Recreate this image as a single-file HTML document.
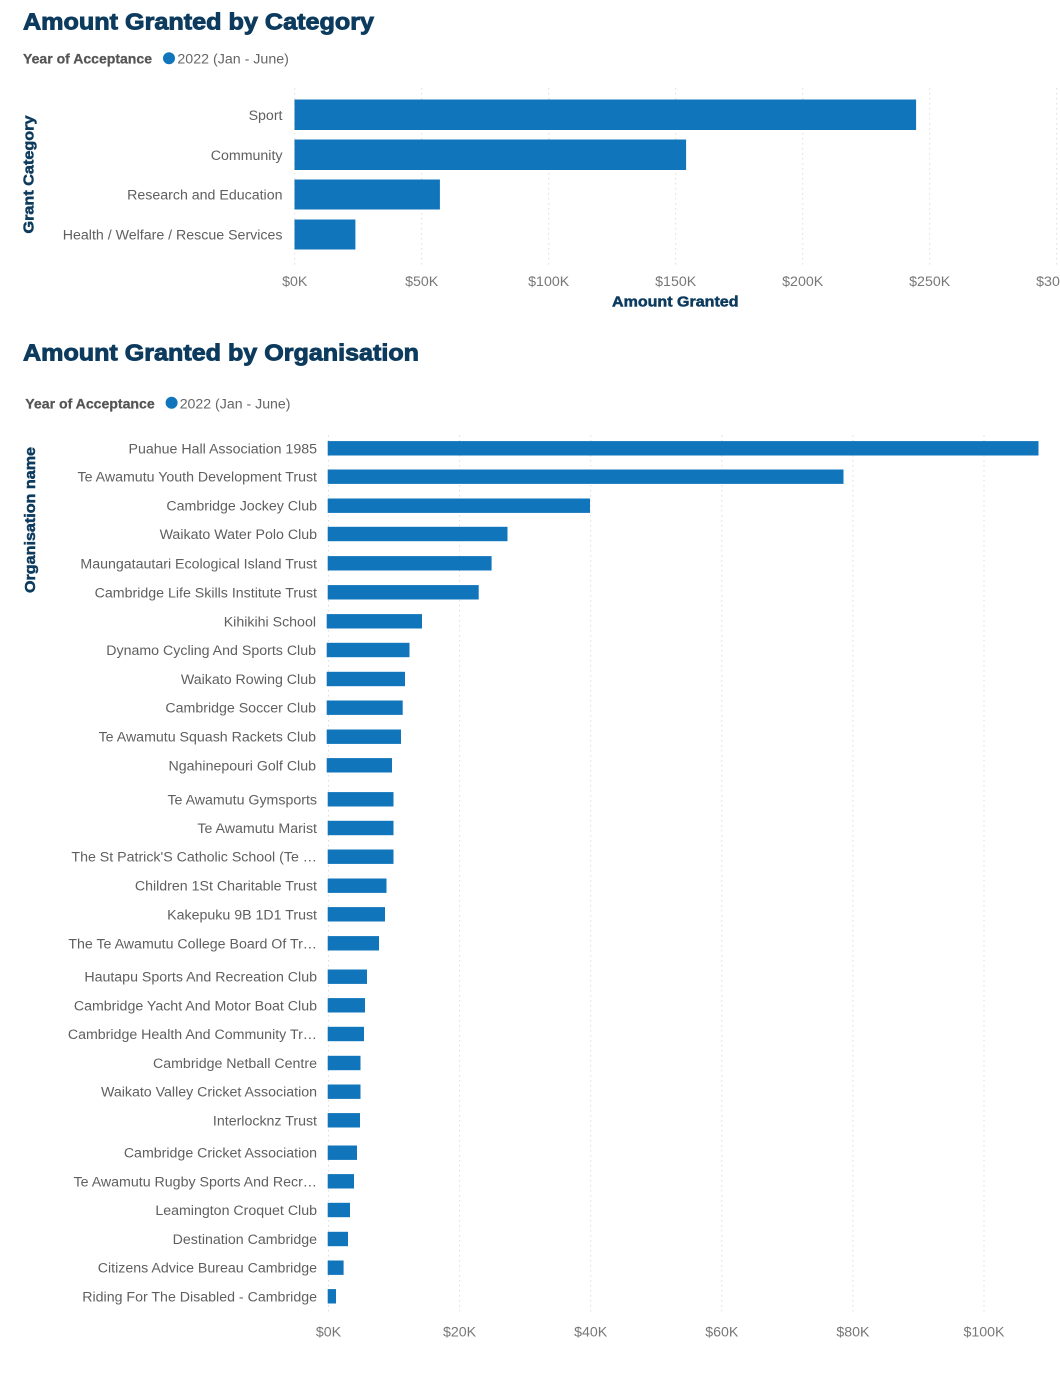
<!DOCTYPE html>
<html>
<head>
<meta charset="utf-8">
<style>
html,body{margin:0;padding:0;background:#fff;}
svg{display:block;}
text{font-family:"Liberation Sans",Arial,sans-serif;}
.lbl{font-size:14.2px;fill:#5f5f5f;text-anchor:end;}
.tick{font-size:14.2px;fill:#777;text-anchor:middle;}
.ttl{font-size:23px;font-weight:bold;fill:#0d3b5e;stroke:#0d3b5e;stroke-width:0.9px;}
.axt{font-size:14.5px;font-weight:bold;fill:#0d3b5e;stroke:#0d3b5e;stroke-width:0.5px;}
.leg{font-size:14.2px;font-weight:bold;fill:#555;stroke:#555;stroke-width:0.25px;}
.legv{font-size:14.2px;fill:#666;}
.grid{stroke:#dcdcdc;stroke-width:1;stroke-dasharray:1.5,3.5;}
.bar{fill:#1075bb;}
</style>
</head>
<body>
<svg width="1060" height="1399" viewBox="0 0 1060 1399" xmlns="http://www.w3.org/2000/svg">
<rect width="1060" height="1399" fill="#fff"/>

<!-- ===== Chart 1 ===== -->
<text class="ttl" x="23" y="29.3" textLength="351" lengthAdjust="spacingAndGlyphs">Amount Granted by Category</text>
<text class="leg" x="23" y="63.3" textLength="129" lengthAdjust="spacingAndGlyphs">Year of Acceptance</text>
<circle cx="169" cy="58.3" r="6" fill="#1075bb"/>
<text class="legv" x="177.4" y="63.3" textLength="111.5" lengthAdjust="spacingAndGlyphs">2022 (Jan - June)</text>

<text class="axt" transform="translate(33.5,233.5) rotate(-90)" x="0" y="0" textLength="118" lengthAdjust="spacingAndGlyphs">Grant Category</text>

<g>
<line class="grid" x1="294.7" y1="88" x2="294.7" y2="268"/>
<line class="grid" x1="421.7" y1="88" x2="421.7" y2="268"/>
<line class="grid" x1="548.7" y1="88" x2="548.7" y2="268"/>
<line class="grid" x1="675.7" y1="88" x2="675.7" y2="268"/>
<line class="grid" x1="802.7" y1="88" x2="802.7" y2="268"/>
<line class="grid" x1="929.7" y1="88" x2="929.7" y2="268"/>
<line class="grid" x1="1056.7" y1="88" x2="1056.7" y2="268"/>
</g>

<rect class="bar" x="294.5" y="99.5" width="621.6" height="30.5"/>
<rect class="bar" x="294.5" y="139.5" width="391.6" height="30.5"/>
<rect class="bar" x="294.5" y="179.5" width="145.4" height="30"/>
<rect class="bar" x="294.5" y="219.5" width="60.9" height="30"/>

<text class="lbl" x="282.5" y="119.8">Sport</text>
<text class="lbl" x="282.5" y="159.8">Community</text>
<text class="lbl" x="282.5" y="199.6">Research and Education</text>
<text class="lbl" x="282.5" y="239.6">Health / Welfare / Rescue Services</text>

<text class="tick" x="294.7" y="286">$0K</text>
<text class="tick" x="421.7" y="286">$50K</text>
<text class="tick" x="548.7" y="286">$100K</text>
<text class="tick" x="675.7" y="286">$150K</text>
<text class="tick" x="802.7" y="286">$200K</text>
<text class="tick" x="929.7" y="286">$250K</text>
<text class="tick" x="1056.7" y="286">$300K</text>

<text class="axt" x="612" y="306.5" textLength="126.5" lengthAdjust="spacingAndGlyphs">Amount Granted</text>

<!-- ===== Chart 2 ===== -->
<text class="ttl" x="23" y="360.7" textLength="396" lengthAdjust="spacingAndGlyphs">Amount Granted by Organisation</text>
<text class="leg" x="25.3" y="408.3" textLength="129.4" lengthAdjust="spacingAndGlyphs">Year of Acceptance</text>
<circle cx="171.6" cy="402.7" r="6" fill="#1075bb"/>
<text class="legv" x="179.7" y="408.3" textLength="110.8" lengthAdjust="spacingAndGlyphs">2022 (Jan - June)</text>

<text class="axt" transform="translate(35,593) rotate(-90)" x="0" y="0" textLength="146" lengthAdjust="spacingAndGlyphs">Organisation name</text>

<g>
<line class="grid" x1="328.5" y1="435" x2="328.5" y2="1313"/>
<line class="grid" x1="459.6" y1="435" x2="459.6" y2="1313"/>
<line class="grid" x1="590.7" y1="435" x2="590.7" y2="1313"/>
<line class="grid" x1="721.8" y1="435" x2="721.8" y2="1313"/>
<line class="grid" x1="852.9" y1="435" x2="852.9" y2="1313"/>
<line class="grid" x1="984" y1="435" x2="984" y2="1313"/>
</g>

<g>
<rect class="bar" x="327.7" y="441.1" width="710.8" height="14.4"/>
<rect class="bar" x="327.7" y="469.5" width="515.8" height="14.4"/>
<rect class="bar" x="327.7" y="498.5" width="262.3" height="14.4"/>
<rect class="bar" x="327.7" y="526.8" width="179.8" height="14.4"/>
<rect class="bar" x="327.7" y="556.1" width="163.9" height="14.4"/>
<rect class="bar" x="327.7" y="585.1" width="151.0" height="14.4"/>
<rect class="bar" x="326.7" y="614.1" width="95.3" height="14.4"/>
<rect class="bar" x="326.7" y="642.8" width="82.8" height="14.4"/>
<rect class="bar" x="326.7" y="671.8" width="78.3" height="14.4"/>
<rect class="bar" x="326.7" y="700.5" width="76.0" height="14.4"/>
<rect class="bar" x="326.7" y="729.5" width="74.3" height="14.4"/>
<rect class="bar" x="326.7" y="758.1" width="65.3" height="14.4"/>
<rect class="bar" x="327.7" y="792.1" width="65.8" height="14.4"/>
<rect class="bar" x="327.7" y="820.8" width="65.8" height="14.4"/>
<rect class="bar" x="327.7" y="849.5" width="65.8" height="14.4"/>
<rect class="bar" x="327.7" y="878.5" width="58.8" height="14.4"/>
<rect class="bar" x="327.7" y="907.1" width="57.3" height="14.4"/>
<rect class="bar" x="327.7" y="936.1" width="51.3" height="14.4"/>
<rect class="bar" x="327.7" y="969.5" width="39.3" height="14.4"/>
<rect class="bar" x="327.7" y="998.1" width="37.3" height="14.4"/>
<rect class="bar" x="327.7" y="1026.8" width="36.3" height="14.4"/>
<rect class="bar" x="327.7" y="1055.8" width="32.8" height="14.4"/>
<rect class="bar" x="327.7" y="1084.5" width="32.8" height="14.4"/>
<rect class="bar" x="327.7" y="1113.1" width="32.3" height="14.4"/>
<rect class="bar" x="327.7" y="1145.5" width="29.3" height="14.4"/>
<rect class="bar" x="327.7" y="1174.1" width="26.3" height="14.4"/>
<rect class="bar" x="327.7" y="1202.8" width="22.3" height="14.4"/>
<rect class="bar" x="327.7" y="1231.8" width="20.3" height="14.4"/>
<rect class="bar" x="327.7" y="1260.5" width="15.9" height="14.4"/>
<rect class="bar" x="327.7" y="1289.1" width="8.3" height="14.4"/>
</g>

<g>
<text class="lbl" x="317" y="453.3">Puahue Hall Association 1985</text>
<text class="lbl" x="317" y="481.7">Te Awamutu Youth Development Trust</text>
<text class="lbl" x="317" y="510.7">Cambridge Jockey Club</text>
<text class="lbl" x="317" y="539">Waikato Water Polo Club</text>
<text class="lbl" x="317" y="568.3">Maungatautari Ecological Island Trust</text>
<text class="lbl" x="317" y="597.3">Cambridge Life Skills Institute Trust</text>
<text class="lbl" x="316" y="626.3">Kihikihi School</text>
<text class="lbl" x="316" y="655">Dynamo Cycling And Sports Club</text>
<text class="lbl" x="316" y="684">Waikato Rowing Club</text>
<text class="lbl" x="316" y="712.7">Cambridge Soccer Club</text>
<text class="lbl" x="316" y="741.7">Te Awamutu Squash Rackets Club</text>
<text class="lbl" x="316" y="770.3">Ngahinepouri Golf Club</text>
<text class="lbl" x="317" y="804.3">Te Awamutu Gymsports</text>
<text class="lbl" x="317" y="833">Te Awamutu Marist</text>
<text class="lbl" x="317" y="861.7">The St Patrick'S Catholic School (Te …</text>
<text class="lbl" x="317" y="890.7">Children 1St Charitable Trust</text>
<text class="lbl" x="317" y="919.3">Kakepuku 9B 1D1 Trust</text>
<text class="lbl" x="317" y="948.3">The Te Awamutu College Board Of Tr…</text>
<text class="lbl" x="317" y="981.7">Hautapu Sports And Recreation Club</text>
<text class="lbl" x="317" y="1010.3">Cambridge Yacht And Motor Boat Club</text>
<text class="lbl" x="317" y="1039">Cambridge Health And Community Tr…</text>
<text class="lbl" x="317" y="1068">Cambridge Netball Centre</text>
<text class="lbl" x="317" y="1096.7">Waikato Valley Cricket Association</text>
<text class="lbl" x="317" y="1125.3">Interlocknz Trust</text>
<text class="lbl" x="317" y="1157.7">Cambridge Cricket Association</text>
<text class="lbl" x="317" y="1186.3">Te Awamutu Rugby Sports And Recr…</text>
<text class="lbl" x="317" y="1215">Leamington Croquet Club</text>
<text class="lbl" x="317" y="1244">Destination Cambridge</text>
<text class="lbl" x="317" y="1272.7">Citizens Advice Bureau Cambridge</text>
<text class="lbl" x="317" y="1301.3">Riding For The Disabled - Cambridge</text>
</g>

<text class="tick" x="328.5" y="1336.5">$0K</text>
<text class="tick" x="459.6" y="1336.5">$20K</text>
<text class="tick" x="590.7" y="1336.5">$40K</text>
<text class="tick" x="721.8" y="1336.5">$60K</text>
<text class="tick" x="852.9" y="1336.5">$80K</text>
<text class="tick" x="984" y="1336.5">$100K</text>
</svg>
</body>
</html>
